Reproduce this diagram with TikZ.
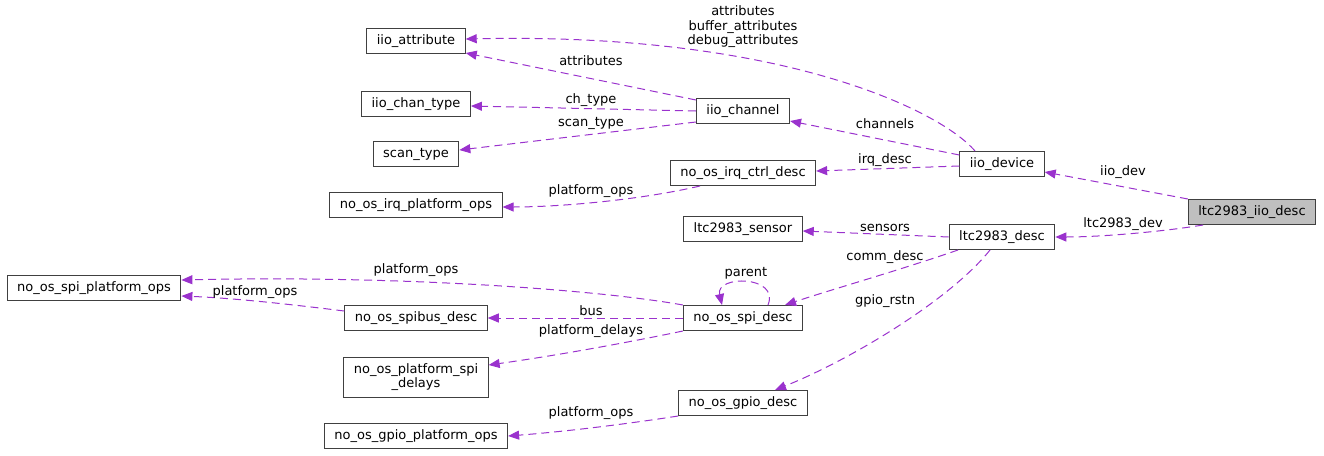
\documentclass[tikz,border=0pt]{standalone}
\usepackage{fontspec}
\setmainfont{DejaVu Sans}
\usepackage{tikz}
\usetikzlibrary{positioning, arrows.meta, calc}
\definecolor{edgePurple}{RGB}{154, 50, 205}
\definecolor{rootGray}{RGB}{191, 191, 191}
\definecolor{borderGray}{RGB}{64, 64, 64}
\tikzset{
  structbox/.style={rectangle, draw=borderGray, line width=1pt, fill=white, minimum height=25pt, inner xsep=10pt, inner ysep=2pt, text centered, font=\fontsize{13}{14.5}\selectfont},
  rootbox/.style={structbox, fill=rootGray},
  member/.style={dashed, dash pattern=on 8pt off 5pt, line width=1pt, edgePurple, -{Triangle[length=11pt, width=9pt]}},
  lbl/.style={inner sep=0pt, align=center, font=\fontsize{13}{14.5}\selectfont}
}
\begin{document}
\begin{tikzpicture}[x=1pt, y=-1pt]
            \useasboundingbox (0,0) rectangle (1324,455);

            % Estructuras
            \node[structbox] (iio_attribute) at (416,41) {iio\_attribute};
            \node[structbox] (iio_chan_type) at (416,104) {iio\_chan\_type};
            \node[structbox] (scan_type) at (416,154) {scan\_type};
            \node[structbox] (irq_plat_ops) at (416,205) {no\_os\_irq\_platform\_ops};
            \node[structbox] (iio_channel) at (743,111) {iio\_channel};
            \node[structbox] (irq_ctrl_desc) at (743,173) {no\_os\_irq\_ctrl\_desc};
            \node[structbox] (ltc_sensor) at (743,229) {ltc2983\_sensor};
            \node[structbox] (iio_device) at (1002,164) {iio\_device};
            \node[structbox] (ltc_desc) at (1002,237) {ltc2983\_desc};
            \node[rootbox] (ltc_iio_desc) at (1252,212) {ltc2983\_iio\_desc};
            \node[structbox] (spi_plat_ops) at (94,288) {no\_os\_spi\_platform\_ops};
            \node[structbox] (spibus_desc) at (416,318) {no\_os\_spibus\_desc};
            \node[structbox, align=center, minimum height=40pt] (spi_delays) at (416,377) {no\_os\_platform\_spi\\\_delays};
            \node[structbox] (gpio_plat_ops) at (416,436) {no\_os\_gpio\_platform\_ops};
            \node[structbox] (spi_desc) at (743,318) {no\_os\_spi\_desc};
            \node[structbox] (gpio_desc) at (743,403) {no\_os\_gpio\_desc};

            % Relaciones
            \draw[member] ([xshift=-27pt]iio_device.north) .. controls (940,110) and (780,32) .. ([yshift=2pt]iio_attribute.east);
            \draw[member] ([yshift=-2pt]iio_channel.north west) -- ([yshift=1pt]iio_attribute.south east);
            \draw[member] (iio_channel.west) -- ([yshift=-2pt]iio_chan_type.east);
            \draw[member] ([yshift=-11pt]iio_channel.west) -- ([yshift=4pt]scan_type.east);
            \draw[member] ([yshift=9pt]iio_device.west) -- ([yshift=3pt]iio_channel.south east);
            \draw[member] ([yshift=-2pt]iio_device.west) -- ([yshift=2pt]irq_ctrl_desc.east);
            \draw[member] ([xshift=-43pt]irq_ctrl_desc.south) .. controls (640,200) and (560,207) .. ([yshift=-2pt]irq_plat_ops.east);
            \draw[member] (ltc_iio_desc.north west) -- ([yshift=-8pt]iio_device.east);
            \draw[member] ([xshift=-49pt]ltc_iio_desc.south) .. controls (1160,232) and (1100,237) .. (ltc_desc.east);
            \draw[member] (ltc_desc.west) -- ([yshift=-2pt]ltc_sensor.east);
            \draw[member] ([xshift=-44pt]ltc_desc.south) .. controls (900,270) and (830,290) .. ([xshift=42pt]spi_desc.north);
            \draw[member] ([xshift=-12pt]ltc_desc.south) .. controls (950,300) and (850,360) .. ([xshift=32pt]gpio_desc.north);
            \draw[member] (spi_desc.north west) .. controls (600,290) and (400,275) .. ([yshift=8pt]spi_plat_ops.east);
            \draw[member] ([yshift=7pt]spibus_desc.west) .. controls (280,303) and (230,298) .. ([yshift=-8pt]spi_plat_ops.east);
            \draw[member] (spi_desc.west) -- (spibus_desc.east);
            \draw[member] (spi_desc.south west) .. controls (630,342) and (560,355) .. ([yshift=12pt]spi_delays.east);
            \draw[member] ([xshift=25pt]spi_desc.north) .. controls (780,275) and (715,275) .. ([xshift=-21pt]spi_desc.north);
            \draw[member] (gpio_desc.south west) .. controls (620,425) and (560,432) .. (gpio_plat_ops.east);

            % Etiquetas
            \node[lbl] (l_dev_attr) at (743,27) {attributes\\buffer\_attributes\\debug\_attributes};
            \node[lbl] (l_ch_attr) at (591,61) {attributes};
            \node[lbl] (l_ch_type) at (591,100) {ch\_type};
            \node[lbl] (l_scan_type) at (591,123) {scan\_type};
            \node[lbl] (l_channels) at (885,124) {channels};
            \node[lbl] (l_irq_desc) at (885,160) {irq\_desc};
            \node[lbl] (l_irq_ops) at (591,191) {platform\_ops};
            \node[lbl] (l_iio_dev) at (1123,172) {iio\_dev};
            \node[lbl] (l_ltc_dev) at (1123,224) {ltc2983\_dev};
            \node[lbl] (l_sensors) at (885,228) {sensors};
            \node[lbl] (l_comm) at (885,257) {comm\_desc};
            \node[lbl] (l_gpio_rstn) at (885,301) {gpio\_rstn};
            \node[lbl] (l_spi_ops) at (416,270) {platform\_ops};
            \node[lbl] (l_spibus_ops) at (255,292) {platform\_ops};
            \node[lbl] (l_bus) at (591,311) {bus};
            \node[lbl] (l_delays) at (591,331) {platform\_delays};
            \node[lbl] (l_parent) at (746,273) {parent};
            \node[lbl] (l_gpio_ops) at (591,413) {platform\_ops};
        \end{tikzpicture}
\end{document}
